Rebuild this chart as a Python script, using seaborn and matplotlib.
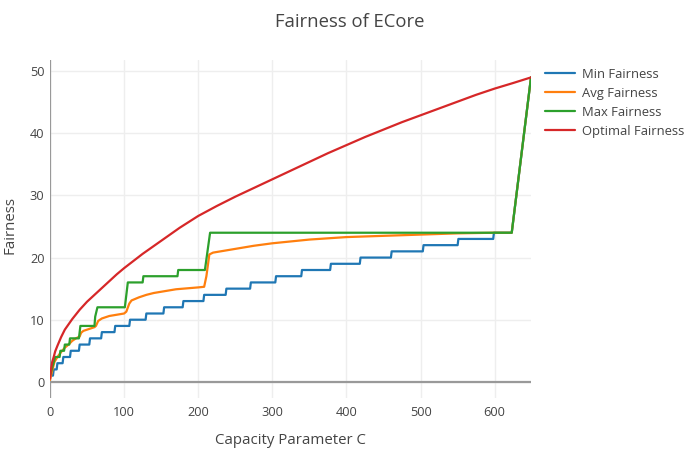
import numpy as np
import pandas as pd
import matplotlib
matplotlib.use("Agg")
import matplotlib.pyplot as plt
import seaborn as sns

# ── Data ────────────────────────────────────────────────────────────────
x_end = 649

# Min Fairness: step levels and the capacity where each level starts
min_levels = list(range(1, 25))
min_starts = [0, 5, 10, 18, 28, 40, 54, 70, 88, 108, 130, 154, 180, 208,
              238, 271, 305, 340, 379, 419, 461, 504, 551, 599]
min_tail_x = [623, x_end]
min_tail_y = [24, 49]

# Avg Fairness
avg_x = [0, 3, 6, 10, 15, 20, 25, 30, 35, 40, 42, 45, 50, 55, 60, 62, 65, 70,
         80, 90, 100, 103, 107, 110, 120, 130, 140, 150, 160, 170, 180, 190,
         200, 208, 211, 215, 220, 230, 250, 275, 300, 325, 350, 400, 450, 500,
         550, 599, 623, x_end]
avg_y = [0.3, 1.8, 3.2, 4.0, 4.8, 5.5, 6.0, 6.6, 7.0, 7.3, 7.9, 8.2, 8.4, 8.6,
         8.8, 9.0, 9.8, 10.2, 10.6, 10.8, 11.0, 11.3, 12.6, 13.1, 13.6, 14.0,
         14.3, 14.5, 14.7, 14.9, 15.0, 15.1, 15.2, 15.3, 17.0, 20.5, 20.8, 21.0,
         21.4, 21.9, 22.3, 22.6, 22.9, 23.3, 23.5, 23.7, 23.9, 24.0, 24.0, 49]

# Max Fairness
max_x = [0, 7, 13, 14, 19, 20, 26, 27, 39, 41, 60, 61, 64, 101, 105, 125, 126,
         172, 173, 209, 216, 623, x_end]
max_y = [1, 4, 4, 5, 5, 6, 6, 7, 7, 9, 9, 10.5, 12, 12, 16, 16, 17, 17, 18, 18,
         24, 24, 49]

# Optimal Fairness
opt_x = [0, 1, 2, 3, 5, 7, 10, 15, 20, 30, 40, 50, 60, 70, 80, 90, 100, 125,
         150, 175, 200, 225, 250, 275, 300, 325, 350, 375, 400, 425, 450, 475,
         500, 525, 550, 575, 600, 625, x_end]
opt_y = [0.5, 1.7, 2.5, 3.2, 4.0, 4.9, 5.8, 7.2, 8.4, 10.1, 11.6, 12.9, 14.0,
         15.1, 16.2, 17.3, 18.3, 20.6, 22.7, 24.8, 26.7, 28.3, 29.8, 31.2, 32.6,
         34.0, 35.4, 36.8, 38.1, 39.4, 40.6, 41.8, 42.9, 44.0, 45.1, 46.2, 47.2,
         48.1, 49.0]

series_names = ["Min Fairness", "Avg Fairness", "Max Fairness", "Optimal Fairness"]
palette = ["#1f77b4", "#ff7f0e", "#2ca02c", "#d62728"]

# expand the min-fairness steps into line vertices
min_x, min_y = [], []
for i, lvl in enumerate(min_levels):
    start = min_starts[i]
    stop = min_starts[i + 1] - 1 if i + 1 < len(min_starts) else min_tail_x[0]
    min_x += [start, stop]
    min_y += [lvl, lvl]
min_x += min_tail_x[1:]
min_y += min_tail_y[1:]

frames = []
for name, xs, ys in zip(series_names,
                        [min_x, avg_x, max_x, opt_x],
                        [min_y, avg_y, max_y, opt_y]):
    frames.append(pd.DataFrame({"C": xs, "Fairness": ys, "series": name}))
df = pd.concat(frames, ignore_index=True)

# ── Plot ────────────────────────────────────────────────────────────────
sns.set_theme(style="white")
plt.rcParams["font.family"] = ["Open Sans", "DejaVu Sans"]
txt = "#444444"

fig = plt.figure(figsize=(7, 4.5), dpi=100)
ax = fig.add_axes([50 / 700, 1 - 398 / 450, 481 / 700, 338 / 450])

sns.lineplot(data=df, x="C", y="Fairness", hue="series", hue_order=series_names,
             palette=palette, sort=False, estimator=None, linewidth=1.6, ax=ax)

ax.set_xlim(0, x_end)
ax.set_ylim(-2.6, 51.8)
ax.set_xticks(range(0, 700, 100))
ax.set_yticks(range(0, 60, 10))
ax.grid(True, color="#eeeeee", linewidth=1)
ax.set_axisbelow(True)
for s in ax.spines.values():
    s.set_visible(False)
ax.axhline(0, color="#999999", linewidth=1.6, zorder=1)
ax.axvline(0, color="#999999", linewidth=1.6, zorder=1)
ax.tick_params(axis="both", length=0, labelsize=9.2, labelcolor=txt)
ax.tick_params(axis="x", pad=6)
ax.tick_params(axis="y", pad=4)

ax.set_xlabel("")
ax.set_ylabel("")
fig.text(290 / 700, 1 - 441 / 450, "Capacity Parameter C", ha="center",
         va="center", fontsize=10.8, color=txt)
fig.text(10 / 700, 1 - 225 / 450, "Fairness", ha="center", va="center",
         rotation=90, fontsize=10.8, color=txt)
fig.text(350 / 700, 1 - 22 / 450, "Fairness of ECore", ha="center",
         va="center", fontsize=13.3, color=txt)

handles, labels = ax.get_legend_handles_labels()
ax.legend(handles, labels, loc="upper left", frameon=False,
          bbox_to_anchor=(545 / 700, 1 - 68 / 450),
          bbox_transform=fig.transFigure, borderpad=0, borderaxespad=0,
          handlelength=2.3, handletextpad=0.5, labelspacing=0.46,
          fontsize=9.4, labelcolor=txt)

fig.savefig("out.png", dpi=100)
